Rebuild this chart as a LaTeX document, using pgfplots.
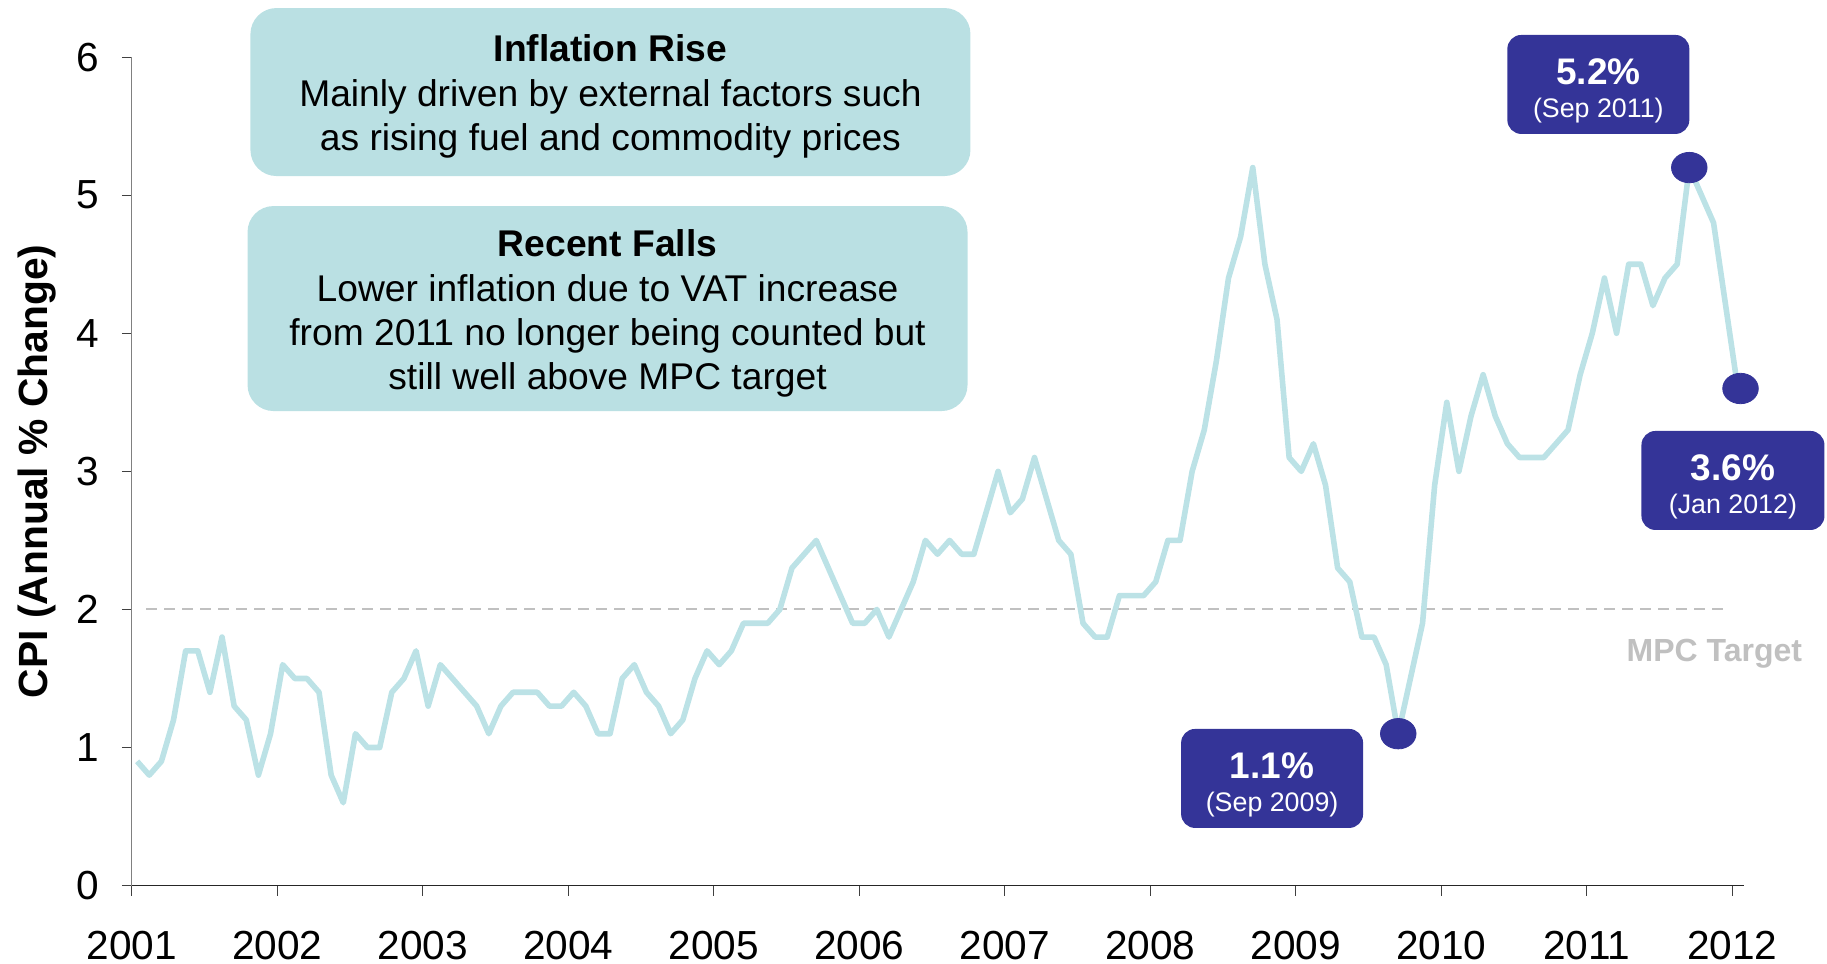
\documentclass[border=0pt]{standalone}
\usepackage{pgfplots}
\pgfplotsset{compat=1.18}
\usepackage{pgfplotstable}
\usepackage{fontspec}
\setmainfont{Liberation Sans}
\definecolor{cpiline}{RGB}{188,226,230}
\definecolor{boxfill}{RGB}{186,224,227}
\definecolor{darkbox}{RGB}{52,52,152}
\definecolor{mpcgray}{RGB}{192,192,192}

% month index (0 = Jan 2001) and CPI annual % change
\pgfplotstableread{
i cpi
0 0.9
1 0.8
2 0.9
3 1.2
4 1.7
5 1.7
6 1.4
7 1.8
8 1.3
9 1.2
10 0.8
11 1.1
12 1.6
13 1.5
14 1.5
15 1.4
16 0.8
17 0.6
18 1.1
19 1.0
20 1.0
21 1.4
22 1.5
23 1.7
24 1.3
25 1.6
26 1.5
27 1.4
28 1.3
29 1.1
30 1.3
31 1.4
32 1.4
33 1.4
34 1.3
35 1.3
36 1.4
37 1.3
38 1.1
39 1.1
40 1.5
41 1.6
42 1.4
43 1.3
44 1.1
45 1.2
46 1.5
47 1.7
48 1.6
49 1.7
50 1.9
51 1.9
52 1.9
53 2.0
54 2.3
55 2.4
56 2.5
57 2.3
58 2.1
59 1.9
60 1.9
61 2.0
62 1.8
63 2.0
64 2.2
65 2.5
66 2.4
67 2.5
68 2.4
69 2.4
70 2.7
71 3.0
72 2.7
73 2.8
74 3.1
75 2.8
76 2.5
77 2.4
78 1.9
79 1.8
80 1.8
81 2.1
82 2.1
83 2.1
84 2.2
85 2.5
86 2.5
87 3.0
88 3.3
89 3.8
90 4.4
91 4.7
92 5.2
93 4.5
94 4.1
95 3.1
96 3.0
97 3.2
98 2.9
99 2.3
100 2.2
101 1.8
102 1.8
103 1.6
104 1.1
105 1.5
106 1.9
107 2.9
108 3.5
109 3.0
110 3.4
111 3.7
112 3.4
113 3.2
114 3.1
115 3.1
116 3.1
117 3.2
118 3.3
119 3.7
120 4.0
121 4.4
122 4.0
123 4.5
124 4.5
125 4.2
126 4.4
127 4.5
128 5.2
129 5.0
130 4.8
131 4.2
132 3.6
}\cpidata

\tikzset{
  tealbox/.style={fill=boxfill, rounded corners=13bp, minimum width=360bp, inner sep=0pt},
  tealtext/.style={align=center, inner sep=0pt, font=\fontsize{18.6bp}{22.2bp}\selectfont},
  darkbg/.style={fill=darkbox, rounded corners=7bp, minimum width=91bp, minimum height=49.5bp, inner sep=0pt},
  darktext/.style={align=center, inner sep=0pt, text=white, font=\fontsize{13.4bp}{16.5bp}\selectfont},
}

\begin{document}
\begin{tikzpicture}
\useasboundingbox (-65.85bp,-39.2bp) rectangle (847.65bp,442.8bp);
\begin{axis}[
  at={(0,0)}, anchor=south west,
  scale only axis, width=806.15bp, height=414.25bp,
  xmin=2001, xmax=2012.08, ymin=0, ymax=6,
  clip=false,
  axis x line*=bottom, axis y line*=left,
  x axis line style={black!85, line width=0.8bp, -},
  y axis line style={black!50, line width=0.6bp, -},
  xtick={2001,...,2012}, ytick={0,...,6},
  xticklabels={2001,2002,2003,2004,2005,2006,2007,2008,2009,2010,2011,2012},
  tick align=outside, major tick length=5bp,
  tick style={black!75, line width=0.5bp},
  /pgf/number format/assume math mode=true,
  ticklabel style={font=\fontsize{20.3bp}{24bp}\selectfont},
  xticklabel style={inner sep=1bp, yshift=-16.4bp},
  yticklabel style={xshift=-7.7bp},
  every axis y label/.style={at={(axis description cs:-0.059,0.5)}, anchor=center, rotate=90},
  ylabel={\fontsize{20.4bp}{24bp}\selectfont\bfseries CPI (Annual \% Change)},
]
\addplot[mpcgray, line width=1bp, dash pattern=on 5.2bp off 3.8bp] coordinates {(2001.1,2) (2011.94,2)};
\addplot[cpiline, line width=2.8bp, line join=round] table[x expr=2001+(\thisrow{i}+0.45)/12, y=cpi] {\cpidata};
\addplot[only marks, mark=*, mark size=7.6bp, mark options={xscale=1.17, fill=darkbox, draw=darkbox}] coordinates {(2009.704,1.1) (2011.704,5.2) (2012.056,3.6)};

\node[tealbox, minimum height=84bp] at (axis cs:2004.29,5.747) {};
\node[tealtext, yshift=-2.3bp] at (axis cs:2004.29,5.747) {\textbf{Inflation Rise}\\Mainly driven by external factors such\\as rising fuel and commodity prices};
\node[tealbox, minimum height=102.5bp] at (axis cs:2004.27,4.179) {};
\node[tealtext, yshift=-2.6bp] at (axis cs:2004.27,4.179) {\textbf{Recent Falls}\\Lower inflation due to VAT increase\\from 2011 no longer being counted but\\still well above MPC target};

\node[darkbg] at (axis cs:2011.079,5.802) {};
\node[darktext, yshift=-3.2bp] at (axis cs:2011.079,5.802) {{\fontsize{18.5bp}{16.5bp}\selectfont\bfseries 5.2\%}\\(Sep 2011)};
\node[darkbg, minimum width=91.5bp] at (axis cs:2012.004,2.934) {};
\node[darktext, yshift=-3.2bp] at (axis cs:2012.004,2.934) {{\fontsize{18.5bp}{16.5bp}\selectfont\bfseries 3.6\%}\\(Jan 2012)};
\node[darkbg] at (axis cs:2008.837,0.776) {};
\node[darktext, yshift=-3.2bp] at (axis cs:2008.837,0.776) {{\fontsize{18.5bp}{16.5bp}\selectfont\bfseries 1.1\%}\\(Sep 2009)};

\node[text=mpcgray, font=\fontsize{16bp}{16bp}\selectfont\bfseries, yshift=-2.3bp] at (axis cs:2011.876,1.713) {MPC Target};
\end{axis}
\end{tikzpicture}
\end{document}
